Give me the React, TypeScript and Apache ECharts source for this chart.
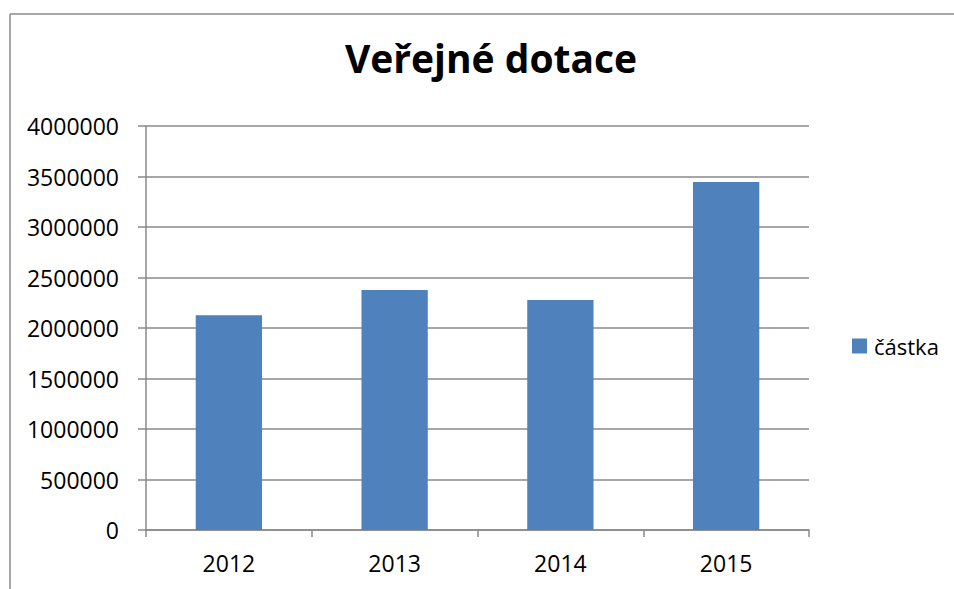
import React, { useEffect, useRef } from "react";
import * as echarts from "echarts";

const categories = ["2012", "2013", "2014", "2015"];
const values = [2126000, 2377000, 2278000, 3445000];
const seriesName = "částka";
const titleText = "Veřejné dotace";

export default function App() {
  const ref = useRef<HTMLDivElement>(null);
  useEffect(() => {
    if (!ref.current) return;
    const chart = echarts.init(ref.current, undefined, { renderer: "svg" });
    const font = "'Open Sans', 'Liberation Sans', sans-serif";
    const gray = "#8a8a8a";
    chart.setOption({
      animation: false,
      backgroundColor: "#ffffff",
      title: {
        text: titleText,
        left: 491,
        textAlign: "center",
        top: 38,
        padding: 0,
        textStyle: { fontFamily: font, fontWeight: "bold", fontSize: 39, color: "#000" },
      },
      legend: {
        data: [seriesName],
        left: 852,
        top: 335,
        padding: 0,
        itemWidth: 15,
        itemHeight: 15,
        itemGap: 0,
        icon: "rect",
        textStyle: { fontFamily: font, fontSize: 22, color: "#000", padding: [0, 0, 0, 2] },
      },
      grid: { left: 146, right: 145, top: 126, bottom: 59, containLabel: false },
      xAxis: {
        type: "category",
        data: categories,
        boundaryGap: true,
        axisLine: { lineStyle: { color: gray, width: 1.5 } },
        axisTick: { show: true, length: 7, inside: false, lineStyle: { color: gray, width: 1.5 } },
        axisLabel: { fontFamily: font, fontSize: 23, color: "#000", margin: 21 },
        splitLine: { show: false },
      },
      yAxis: {
        type: "value",
        min: 0,
        max: 4000000,
        interval: 500000,
        axisLine: { show: true, lineStyle: { color: gray, width: 1.5 } },
        axisTick: { show: true, length: 8, inside: false, lineStyle: { color: gray, width: 1.5 } },
        axisLabel: {
          fontFamily: font,
          fontSize: 23,
          color: "#000",
          margin: 27,
          formatter: (v: number) => String(v),
        },
        splitLine: { show: true, lineStyle: { color: gray, width: 1.5 } },
      },
      series: [
        {
          name: seriesName,
          type: "bar",
          data: values,
          barWidth: "40%",
          itemStyle: { color: "#4F81BD" },
        },
      ],
      graphic: [
        {
          type: "line",
          shape: { x1: 10, y1: 14, x2: 1000, y2: 14 },
          style: { stroke: gray, lineWidth: 1.5 },
          silent: true,
        },
        {
          type: "line",
          shape: { x1: 10, y1: 14, x2: 10, y2: 1000 },
          style: { stroke: gray, lineWidth: 1.5 },
          silent: true,
        },
      ],
    });
    return () => chart.dispose();
  }, []);
  return (
    <div
      ref={ref}
      style={{ position: "fixed", left: 0, top: 0, width: 954, height: 589 }}
    />
  );
}
